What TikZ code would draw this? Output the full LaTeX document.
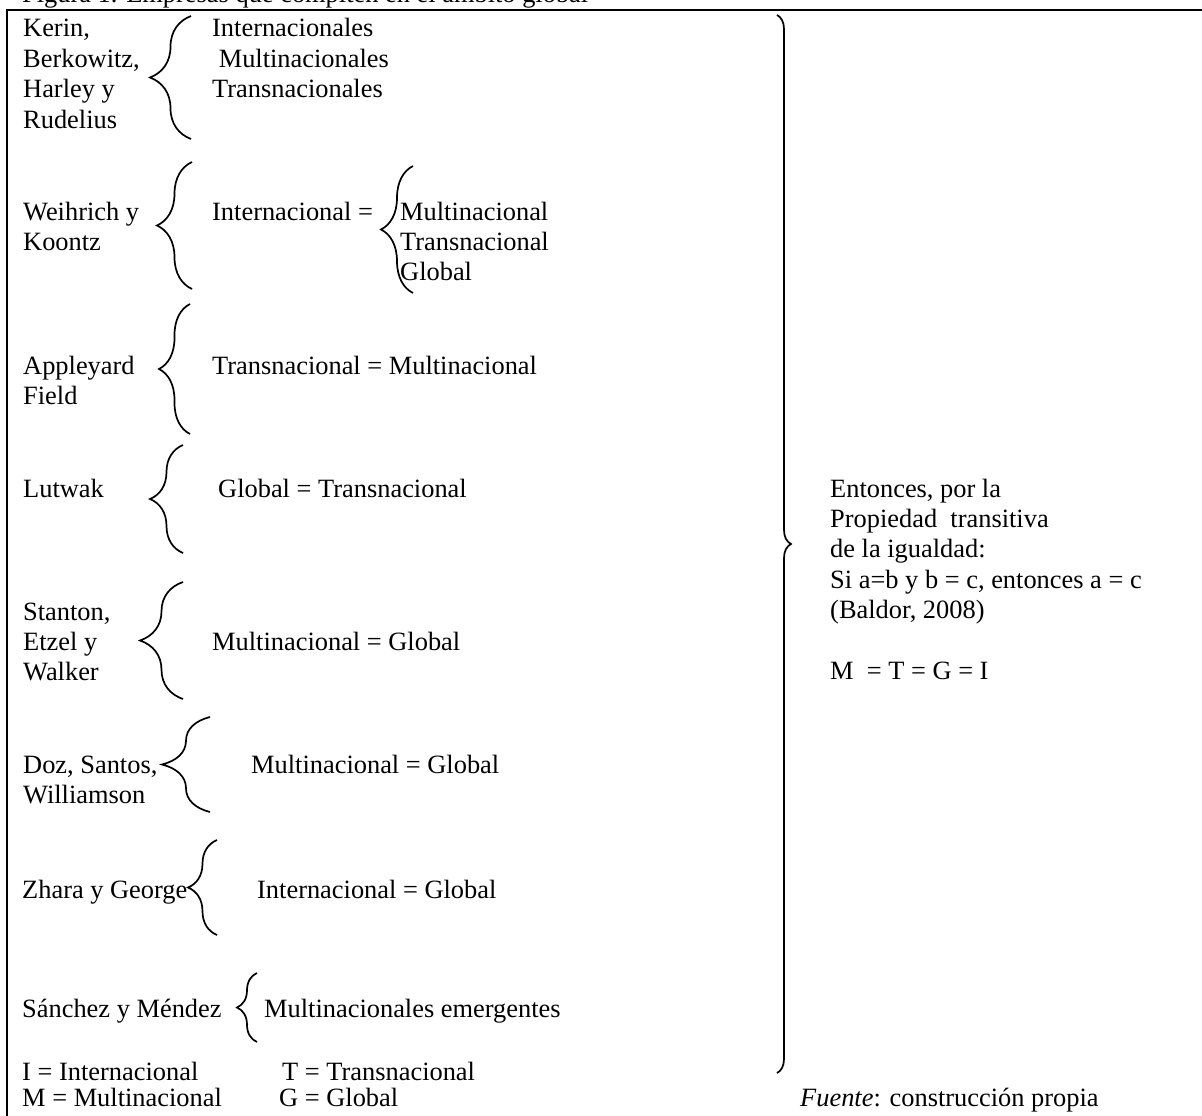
\documentclass[tikz,border=0pt]{standalone}
\usepackage{fontspec}
\setmainfont{Liberation Serif}
\usepackage{tikz}
\usetikzlibrary{decorations.pathreplacing}
\newcommand{\lineas}[1]{\begin{tabular}[t]{@{}l@{}}#1\end{tabular}}
\tikzset{
	texto/.style={anchor=base west, inner sep=0pt},
	llave/.style={decorate, decoration={brace, amplitude=#1pt}, line width=1.7pt},
	marco/.style={line width=2.5pt}
}
\begin{document}
\begin{tikzpicture}[x=1pt, y=-1pt, font=\fontsize{26.4}{30.4}\selectfont]
						\useasboundingbox (0,0) rectangle (1202,1116);
						\node[texto] (titulo) at (22,3) {Figura 1. Empresas que compiten en el ámbito global};
						\draw[marco] (7,1120) -- (7,10) -- (1206,10);
						\node[texto] (kerin) at (23,37) {\lineas{Kerin,\\Berkowitz,\\Harley y\\Rudelius}};
						\node[texto] (tipos1) at (212,37) {\lineas{Internacionales\\~Multinacionales\\Transnacionales}};
						\draw[llave=41] (191,139) -- (191,16);
						\node[texto] (weihrich) at (23,220) {\lineas{Weihrich y\\Koontz}};
						\node[texto] (igual1) at (212,220) {Internacional =};
						\node[texto] (tipos2) at (400,220) {\lineas{Multinacional\\Transnacional\\Global}};
						\draw[llave=35] (192,289) -- (192,162);
						\draw[llave=32] (413,293) -- (413,166);
						\node[texto] (appleyard) at (23,374) {\lineas{Appleyard\\Field}};
						\node[texto] (igual2) at (212,374) {Transnacional = Multinacional};
						\draw[llave=31] (190,434) -- (190,304);
						\node[texto] (lutwak) at (23,497) {Lutwak};
						\node[texto] (igual3) at (218,497) {Global = Transnacional};
						\draw[llave=33] (183,553) -- (183,445);
						\node[texto] (stanton) at (23,620) {\lineas{Stanton,\\Etzel y\\Walker}};
						\node[texto] (igual4) at (212,650) {Multinacional = Global};
						\draw[llave=43] (183,699) -- (183,582);
						\node[texto] (doz) at (23,773) {\lineas{Doz, Santos,\\Williamson}};
						\node[texto] (igual5) at (251,773) {Multinacional = Global};
						\draw[llave=48] (210,812) -- (210,717);
						\node[texto] (zhara) at (22,898) {Zhara y George};
						\node[texto] (igual6) at (257,898) {Internacional = Global};
						\draw[llave=29] (217,935) -- (217,840);
						\node[texto] (sanchez) at (22,1017) {Sánchez y Méndez};
						\node[texto] (emergentes) at (264,1017) {Multinacionales emergentes};
						\draw[llave=20] (257,1042) -- (257,973);
						\node[texto] (ley1) at (22,1080) {I = Internacional};
						\node[texto] (ley2) at (22,1106) {M = Multinacional};
						\node[texto] (ley3) at (282,1080) {T = Transnacional};
						\node[texto] (ley4) at (279,1106) {G = Global};
						\draw[llave=14] (777,15) -- (777,1073);
						\node[texto] (entonces) at (830,497) {\lineas{Entonces, por la\\Propiedad~ transitiva\\de la igualdad:\\Si a=b y b = c, entonces a = c\\(Baldor, 2008)\\ \\M~ = T = G = I}};
						\node[texto] (fuente) at (800,1106) {\textit{Fuente}: construcción propia};
					\end{tikzpicture}
\end{document}
